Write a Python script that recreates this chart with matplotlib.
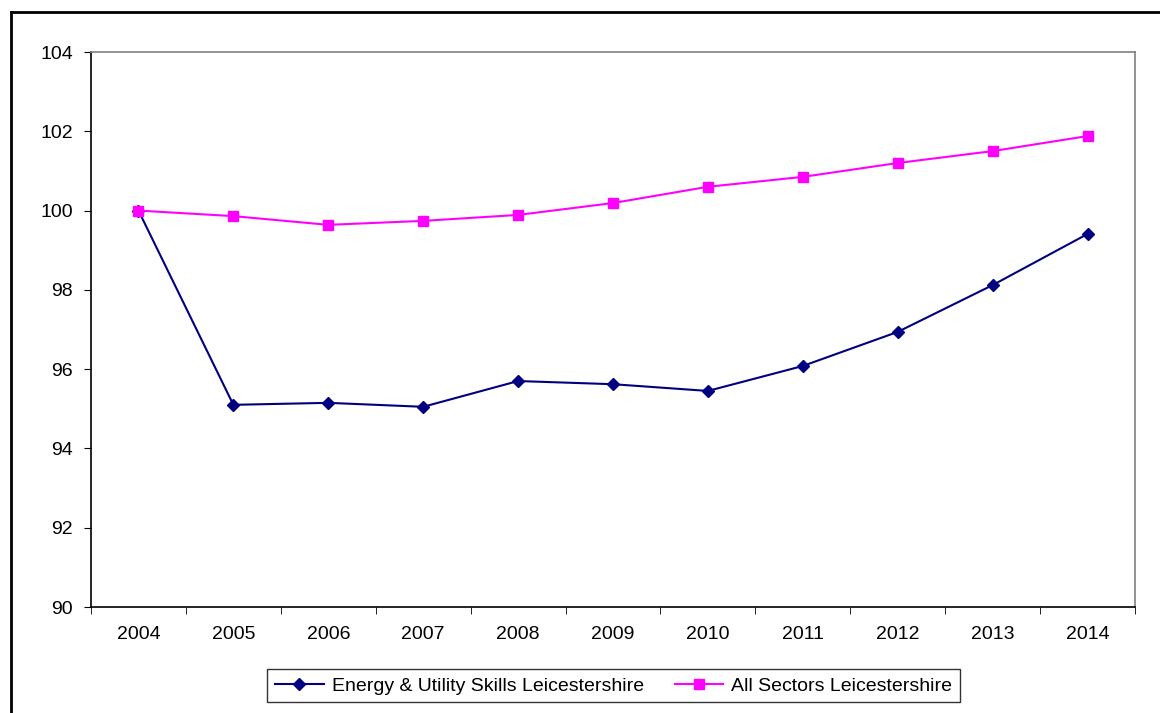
import matplotlib.pyplot as plt
from matplotlib.lines import Line2D

plt.rcParams['font.family'] = ['Liberation Sans', 'DejaVu Sans']

years = ['2004', '2005', '2006', '2007', '2008', '2009', '2010', '2011', '2012', '2013', '2014']
energy = [100.0, 95.10, 95.15, 95.05, 95.70, 95.62, 95.45, 96.08, 96.94, 98.12, 99.41]
all_sectors = [100.0, 99.86, 99.64, 99.74, 99.89, 100.19, 100.60, 100.85, 101.20, 101.50, 101.88]

fig = plt.figure(figsize=(11.6, 7.13), dpi=100)
ax = fig.add_axes([91 / 1160, 1 - 607 / 713, 1044 / 1160, 555 / 713])

x = list(range(len(years)))
ax.plot(x, energy, color='#000080', marker='D', markersize=6, linewidth=1.5,
        label='Energy & Utility Skills Leicestershire')
ax.plot(x, all_sectors, color='#FF00FF', marker='s', markersize=7, linewidth=1.5,
        label='All Sectors Leicestershire')

ax.set_xlim(-0.5, len(years) - 0.5)
ax.set_ylim(90, 104)
ax.set_yticks(range(90, 105, 2))
ax.set_xticks(x)
ax.set_xticklabels(years)
ax.set_xticks([i - 0.5 for i in range(len(years) + 1)], minor=True)
ax.tick_params(axis='x', which='major', length=0, pad=14, labelsize=14)
ax.tick_params(axis='x', which='minor', length=5, direction='out', color='black')
ax.tick_params(axis='y', length=5, direction='out', pad=8, labelsize=14)

for side in ['top', 'right']:
    ax.spines[side].set_color('#808080')
    ax.spines[side].set_linewidth(1.2)
for side in ['left', 'bottom']:
    ax.spines[side].set_color('black')
    ax.spines[side].set_linewidth(1.2)

leg = fig.legend(loc='center', bbox_to_anchor=(0.529, 0.038), ncol=2,
                 fontsize=14, frameon=True, fancybox=False, edgecolor='black',
                 handlelength=2.5, columnspacing=1.6, borderpad=0.4, handletextpad=0.4)
leg.get_frame().set_linewidth(1.0)

# outer chart frame
fig.add_artist(Line2D([11 / 1160, 1.0], [1 - 12 / 713, 1 - 12 / 713],
                      transform=fig.transFigure, color='black', linewidth=2))
fig.add_artist(Line2D([11 / 1160, 11 / 1160], [0.0, 1 - 12 / 713],
                      transform=fig.transFigure, color='black', linewidth=2))

fig.savefig('out.png', dpi=100)
